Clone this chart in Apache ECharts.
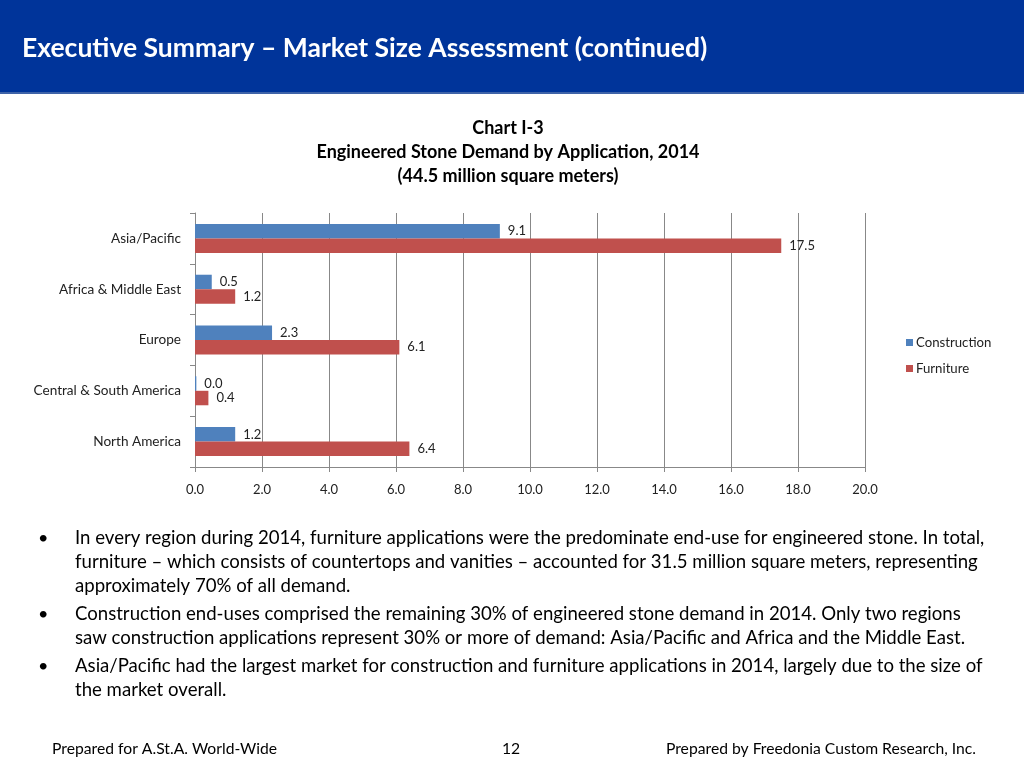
<!DOCTYPE html>
<html>
<head>
<meta charset="utf-8">
<script src="https://cdn.jsdelivr.net/npm/echarts@6/dist/echarts.min.js"></script>
<style>html,body{margin:0;padding:0;background:#fff}#c{width:1024px;height:768px}</style>
</head>
<body>
<div id="c"></div>
<script>
const categories = ['Asia/Pacific', 'Africa & Middle East', 'Europe', 'Central & South America', 'North America'];
const construction = [9.1, 0.5, 2.3, 0.04, 1.2];
const furniture = [17.5, 1.2, 6.1, 0.4, 6.4];
const xTicks = [0, 2, 4, 6, 8, 10, 12, 14, 16, 18, 20];
const seriesNames = ['Construction', 'Furniture'];
const headerTitle = 'Executive Summary \u2013 Market Size Assessment (continued)';
const chartTitles = ['Chart I-3', 'Engineered Stone Demand by Application, 2014', '(44.5 million square meters)'];
const bulletLines = [
  [ 'In every region during 2014, furniture applications were the predominate end-use for engineered stone. In total,',
    'furniture \u2013 which consists of countertops and vanities \u2013 accounted for 31.5 million square meters, representing',
    'approximately 70% of all demand.' ],
  [ 'Construction end-uses comprised the remaining 30% of engineered stone demand in 2014. Only two regions',
    'saw construction applications represent 30% or more of demand: Asia/Pacific and Africa and the Middle East.' ],
  [ 'Asia/Pacific had the largest market for construction and furniture applications in 2014, largely due to the size of',
    'the market overall.' ]
];
const footerLeft = 'Prepared for A.St.A. World-Wide';
const footerPage = '12';
const footerRight = 'Prepared by Freedonia Custom Research, Inc.';

const FONT = 'Lato, "Open Sans", sans-serif';
const chart = echarts.init(document.getElementById('c'));

const graphics = [
  { type: 'rect', shape: { x: 0, y: 0, width: 1024, height: 93 }, style: { fill: '#00349A' }, silent: true },
  { type: 'rect', shape: { x: 0, y: 92, width: 1024, height: 2 }, style: { fill: '#3F63A8' }, silent: true },
  { type: 'text', x: 22, y: 48, style: { text: headerTitle, fill: '#fff', font: 'bold 26.5px ' + FONT, verticalAlign: 'middle' } }
];
chartTitles.forEach((t, i) => {
  graphics.push({ type: 'text', x: 508, y: 128 + i * 24,
    style: { text: t, fill: '#000', font: 'bold 18px ' + FONT, align: 'center', verticalAlign: 'middle' } });
});
let yy = 538;
const lineH = 24, bulletGap = 4;
bulletLines.forEach((lines) => {
  graphics.push({ type: 'text', x: 38, y: yy, style: { text: '\u2022', fill: '#000', font: '18px ' + FONT, verticalAlign: 'middle' } });
  lines.forEach((l, j) => {
    graphics.push({ type: 'text', x: 75, y: yy + j * lineH, style: { text: l, fill: '#000', font: '18.6px ' + FONT, verticalAlign: 'middle' } });
  });
  yy += lines.length * lineH + bulletGap;
});
graphics.push({ type: 'text', x: 52, y: 749, style: { text: footerLeft, fill: '#000', font: '15.7px ' + FONT, verticalAlign: 'middle' } });
graphics.push({ type: 'text', x: 511, y: 749, style: { text: footerPage, fill: '#000', font: '15.7px ' + FONT, align: 'center', verticalAlign: 'middle' } });
graphics.push({ type: 'text', x: 976, y: 749, style: { text: footerRight, fill: '#000', font: '15.7px ' + FONT, align: 'right', verticalAlign: 'middle' } });

const labelCfg = {
  show: true, position: 'right', distance: 8, color: '#222', fontSize: 13, fontFamily: FONT,
  formatter: p => p.value.toFixed(1)
};

chart.setOption({
  animation: false,
  textStyle: { fontFamily: FONT },
  graphic: graphics,
  legend: {
    orient: 'vertical', left: 901, top: 331, itemWidth: 7, itemHeight: 7, itemGap: 13,
    icon: 'rect', data: seriesNames,
    textStyle: { fontSize: 13.2, color: '#222', fontFamily: FONT, padding: [0, 0, 0, -2] }
  },
  grid: { left: 195, right: 159, top: 213, bottom: 301, containLabel: false },
  xAxis: {
    type: 'value', min: xTicks[0], max: xTicks[xTicks.length - 1], interval: 2,
    axisLine: { show: true, lineStyle: { color: '#888' } },
    axisTick: { show: true, length: 5, lineStyle: { color: '#888' } },
    axisLabel: { color: '#222', fontSize: 13, margin: 16, formatter: v => v.toFixed(1) },
    splitLine: { show: true, lineStyle: { color: '#888', width: 1 } }
  },
  yAxis: {
    type: 'category', data: categories, inverse: true,
    axisLine: { show: true, lineStyle: { color: '#888' } },
    axisTick: { show: true, length: 5, alignWithLabel: false, lineStyle: { color: '#888' } },
    axisLabel: { color: '#222', fontSize: 13.6, margin: 14 }
  },
  series: [
    { name: seriesNames[0], type: 'bar', data: construction, barGap: '0%', barCategoryGap: '43%',
      itemStyle: { color: '#4F81BD' }, label: labelCfg },
    { name: seriesNames[1], type: 'bar', data: furniture, barGap: '0%', barCategoryGap: '43%',
      itemStyle: { color: '#C0504D' }, label: labelCfg }
  ]
});
</script>
</body>
</html>
